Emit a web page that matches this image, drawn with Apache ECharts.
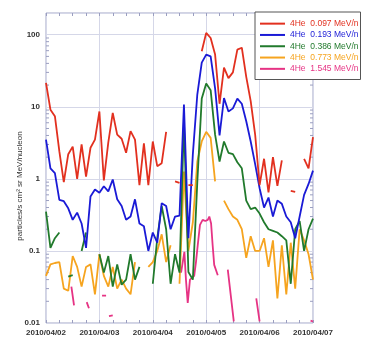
<!DOCTYPE html>
<html>
<head>
<meta charset="utf-8">
<script src="https://cdn.jsdelivr.net/npm/echarts@6/dist/echarts.min.js"></script>
<style>
  html, body { margin: 0; padding: 0; background: #fff; }
  #chart { width: 365px; height: 347px; }
</style>
</head>
<body>
<div id="chart"></div>
<script>
// Day labels along the time axis (hours since 2010/04/02 00:00)
const dayLabels = ['2010/04/02', '2010/04/03', '2010/04/04', '2010/04/05', '2010/04/06', '2010/04/07'];
const decadeLabels = ['0.01', '0.1', '1', '10', '100'];

const seriesNames = [
  '4He  0.097 MeV/n',
  '4He  0.193 MeV/n',
  '4He  0.386 MeV/n',
  '4He  0.773 MeV/n',
  '4He  1.545 MeV/n'
];
const seriesColors = ['#e2301f', '#1a1ad6', '#217a2c', '#f6a41f', '#e63384'];

// Two-hourly intensities, particles/(s cm² sr MeV/nucleon); null = no data
const sampleStepHours = 2;
const he097 = [21.5, 9.1, 7.4, 2.4, 0.9, 2.2, 2.8, 1.0, 3.0, 1.07,
  2.7, 3.5, 8.6, 0.95, 3.2, 8.2, 4.1, 3.6, 2.3, 4.6,
  3.5, 0.82, 3.1, 0.82, 3.3, 1.5, 1.65, 4.5, null, 0.92,
  0.88, null, 0.82, 0.82, null, 59, 106, 90, 53, 11,
  35, 25, 30, 62, 66, 26, 12, 4.1, 0.82, 1.9,
  0.65, 2.0, 0.8, 1.8, null, 0.68, 0.66, null, 1.9, 1.4, 3.8];
const he193 = [3.5, 1.4, 1.2, 0.51, 0.49, 0.39, 0.27, 0.34, 0.24, 0.11,
  0.57, 0.71, 0.64, 0.79, 0.67, 0.98, 0.52, 0.42, 0.27, 0.3,
  0.52, 0.24, 0.22, 0.1, 0.18, 0.13, 0.46, 0.42, 0.2, 0.3,
  0.31, 10.7, 0.15, 2.2, 14.8, 41, 53, 50, 18, 4.0,
  13.2, 8.6, 9.5, 13, 11, 6.3, 3.3, 1.6, 0.74, 0.4,
  0.55, 0.3, 0.5, 0.45, 0.3, 0.25, 0.15, 0.3, 0.6, 0.85, 1.3];
const he386 = [0.35, 0.11, 0.15, 0.18, null, 0.044, 0.046, null, 0.1, 0.18,
  null, null, 0.09, 0.05, 0.085, 0.032, 0.065, 0.034, 0.04, 0.09,
  0.04, 0.06, null, null, 0.035, 0.15, 0.42, 0.2, 0.035, 0.09,
  0.05, 6.3, 0.051, 0.04, 0.9, 13, 21, 17, 4.1, 1.74,
  3.3, 2.3, 2.2, 1.7, 1.4, 0.5, 0.38, 0.4, 0.33, 0.25,
  0.2, 0.19, 0.18, 0.16, 0.14, 0.035, 0.2, 0.26, 0.1, 0.2, 0.28];
const he773 = [0.045, 0.065, 0.068, 0.07, 0.03, 0.028, 0.085, 0.06, 0.032, 0.06,
  0.065, 0.025, 0.09, 0.045, 0.032, 0.06, 0.03, 0.04, 0.03, 0.025,
  0.07, null, null, 0.06, 0.07, 0.1, 0.17, 0.07, 0.12, null,
  0.035, 1.26, 0.1, 0.25, 1.74, 3.3, 4.5, 3.7, 0.92, null,
  0.5, 0.38, 0.3, 0.27, 0.2, 0.08, 0.16, 0.1, 0.1, 0.15,
  0.06, 0.14, 0.022, 0.12, 0.025, 0.13, 0.03, 0.2, 0.14, 0.09, 0.04];

// The highest channel is sparse: its own sample hours, null breaks the line
const he1545Hours = [11.4, 12.6, 15, 18.3, 19.3, 22, 25.2, 27.0, 27.6, 28.3,
  30.0, 45, 60.7, 62.2, 62.9, 63.7, 64.7, 66.6, 67.4, 68.2,
  69.2, 70.4, 71.6, 72.7, 73.4, 74.2, 74.9, 75.6, 76.4, 77.2,
  79, 81.7, 84.4, 90, 94.5, 96.0, 110, 118.9, 120];
const he1545 = [0.032, 0.0175, null, 0.0195, 0.016, null, 0.024, 0.024, null, 0.0125,
  0.0128, null, 0.05, 0.097, 0.04, 0.019, 0.04, 0.045, 0.07, 0.12,
  0.23, 0.27, 0.26, 0.27, 0.3, 0.24, 0.12, 0.064, 0.065, 0.046,
  null, 0.055, 0.0105, null, 0.022, 0.0105, null, 0.0108, 0.0105];

const gridSeries = [he097, he193, he386, he773];

const FONT = '"Liberation Sans", Arial, Helvetica, sans-serif';
const frameColor = '#a3a6c6';
const gridLineColor = '#d5d7e8';
const tickColor = '#9a9ec0';

// Log-axis minor tick positions (2..9 within each decade)
const minorTickValues = [];
for (let e = -2; e <= 2; e++) {
  for (let m = 2; m <= 9; m++) {
    const v = m * Math.pow(10, e);
    if (v < 200) minorTickValues.push(v);
  }
}

const chart = echarts.init(document.getElementById('chart'), null, { renderer: 'canvas' });

const lineSeries = gridSeries.map((vals, k) => ({
  name: seriesNames[k],
  type: 'line',
  data: vals.map((v, i) => [i * sampleStepHours, v]),
  showSymbol: false,
  symbol: 'none',
  connectNulls: false,
  color: seriesColors[k],
  lineStyle: { width: 1.8, color: seriesColors[k] },
  z: 5 - k
}));
lineSeries.push({
  name: seriesNames[4],
  type: 'line',
  data: he1545Hours.map((h, i) => [h, he1545[i]]),
  showSymbol: false,
  symbol: 'none',
  connectNulls: false,
  color: seriesColors[4],
  lineStyle: { width: 1.8, color: seriesColors[4] },
  z: 1
});

// Minor ticks on both vertical edges, placed through the log scale
lineSeries.push({
  type: 'custom',
  silent: true,
  z: 0,
  data: minorTickValues.map(v => [0, v]),
  renderItem: (params, api) => {
    const v = api.value(1);
    const l = api.coord([0, v]);
    const r = api.coord([120, v]);
    return {
      type: 'group',
      children: [
        { type: 'line', shape: { x1: l[0], y1: l[1], x2: l[0] + 3, y2: l[1] }, style: { stroke: tickColor, lineWidth: 1 } },
        { type: 'line', shape: { x1: r[0], y1: r[1], x2: r[0] - 3, y2: r[1] }, style: { stroke: tickColor, lineWidth: 1 } }
      ]
    };
  }
});

const xAxisBase = {
  type: 'value',
  min: 0,
  max: 120,
  interval: 24,
  axisLine: { show: false },
  axisTick: { show: true, inside: true, length: 3, lineStyle: { color: tickColor } },
  minorTick: { show: true, splitNumber: 4, length: 3, lineStyle: { color: tickColor } }
};

chart.setOption({
  animation: false,
  backgroundColor: '#fff',
  grid: {
    left: 46, right: 52, top: 13, bottom: 24,
    show: true, borderColor: frameColor, borderWidth: 1, backgroundColor: 'transparent'
  },
  xAxis: [
    Object.assign({}, xAxisBase, {
      position: 'bottom',
      splitLine: { show: true, lineStyle: { color: gridLineColor, width: 1 } },
      axisLabel: {
        show: true, margin: 6, fontSize: 8, fontWeight: 'bold', color: '#333', fontFamily: FONT,
        formatter: v => dayLabels[Math.round(v / 24)] || ''
      }
    }),
    Object.assign({}, xAxisBase, {
      position: 'top',
      splitLine: { show: false },
      axisLabel: { show: false }
    })
  ],
  yAxis: {
    type: 'log',
    logBase: 10,
    min: 0.01,
    max: 200,
    axisLine: { show: false },
    axisTick: { show: false },
    splitLine: { show: true, lineStyle: { color: gridLineColor, width: 1 } },
    axisLabel: {
      margin: 6, fontSize: 8, fontWeight: 'bold', color: '#333', fontFamily: FONT,
      showMaxLabel: false,
      formatter: v => {
        const e = Math.round(Math.log10(v));
        if (Math.abs(Math.log10(v) - e) > 1e-6) return '';
        return decadeLabels[e + 2] || '';
      }
    }
  },
  legend: {
    left: 255,
    top: 12,
    orient: 'vertical',
    selectedMode: false,
    backgroundColor: '#fff',
    borderColor: '#555',
    borderWidth: 1,
    borderRadius: 0,
    padding: [6, 2, 5, 5],
    icon: 'rect',
    itemWidth: 25,
    itemHeight: 2,
    itemGap: 0,
    textStyle: { fontSize: 8.5, fontFamily: FONT, lineHeight: 11.3 },
    data: seriesNames.map((n, i) => ({ name: n, textStyle: { color: seriesColors[i] } }))
  },
  graphic: [{
    type: 'text',
    x: 20,
    y: 186,
    rotation: Math.PI / 2,
    style: {
      text: 'particles/s cm² sr MeV/nucleon',
      fontSize: 8,
      fontFamily: FONT,
      fill: '#333',
      align: 'center',
      verticalAlign: 'middle'
    }
  }],
  series: lineSeries
});
</script>
</body>
</html>
